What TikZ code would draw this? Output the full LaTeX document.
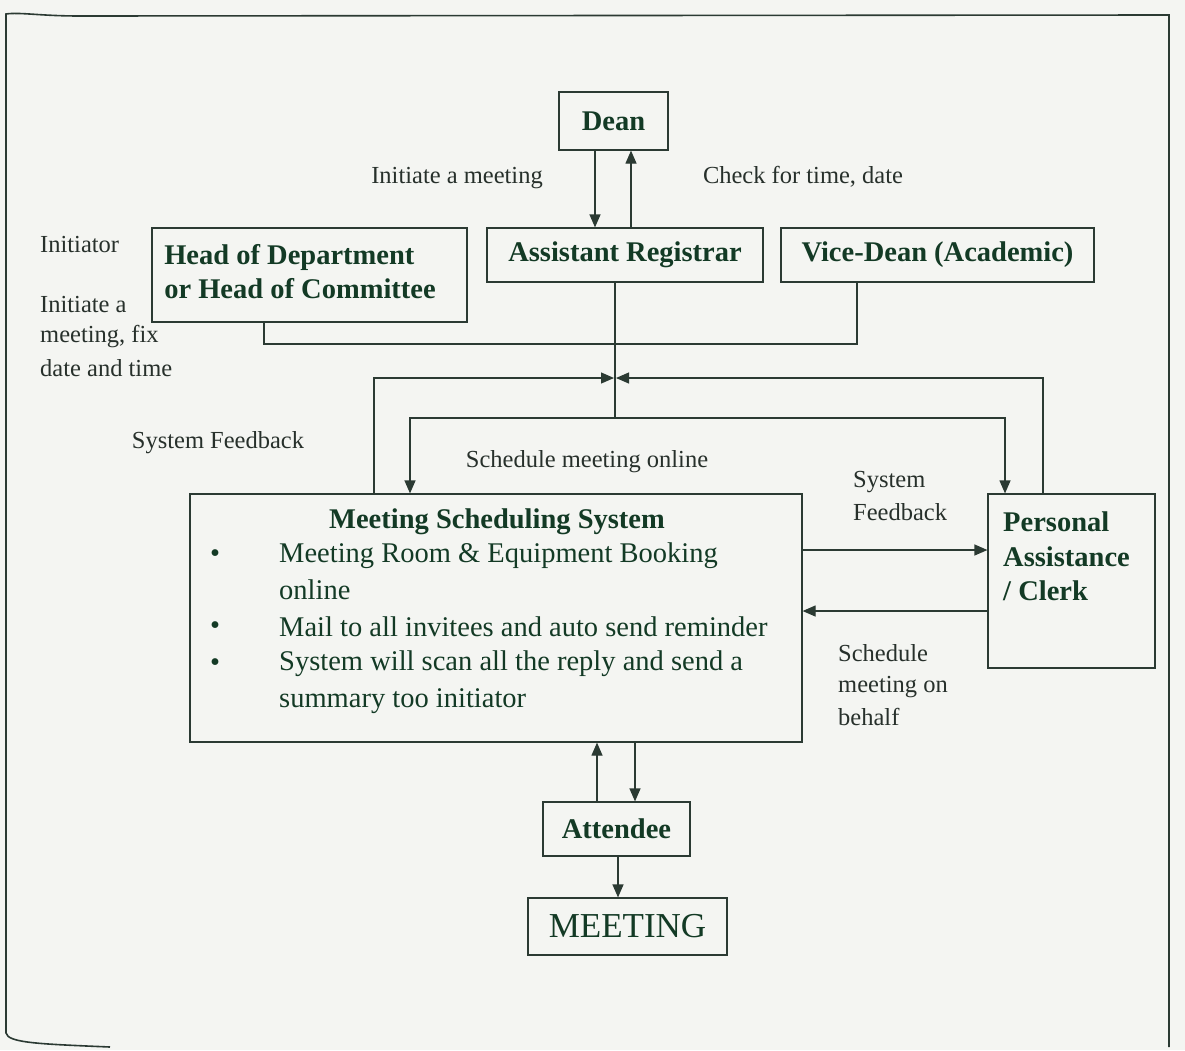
\documentclass[tikz,border=0pt]{standalone}
\usepackage{fontspec}
\setmainfont{Liberation Serif}
\usetikzlibrary{arrows.meta}
\definecolor{linecol}{HTML}{2B3A33}
\definecolor{textcol}{HTML}{27302B}
\definecolor{boldcol}{HTML}{133A25}
\definecolor{paper}{HTML}{F4F5F2}
\begin{document}
\begin{tikzpicture}[x=1pt,y=-1pt,
  box/.style={draw=linecol,line width=1.2pt,inner sep=0pt},
  boxtext/.style={text=boldcol,font=\fontsize{28.5}{34}\selectfont\bfseries,inner sep=0pt},
  lbl/.style={text=textcol,font=\fontsize{24.5}{30}\selectfont,inner sep=0pt},
  itemtext/.style={text=boldcol,font=\fontsize{28.5}{34}\selectfont,inner sep=0pt,anchor=west},
  bullet/.style={text=boldcol,font=\fontsize{28.5}{34}\selectfont,inner sep=0pt},
  wire/.style={draw=linecol,line width=1.2pt},
  arr/.style={wire,-{Triangle[length=13pt,width=11pt]}}]
% page and outer frame
\fill[paper] (0,0) rectangle (1185,1050);
\useasboundingbox (0,0) rectangle (1185,1050);
\draw[linecol,line width=1.6pt] (110,1047) .. controls (40,1044) and (8,1043) .. (6,1033)
  -- (6,14) .. controls (20,12) and (40,16) .. (80,16) -- (1169,15) -- (1169,1047);

% boxes
\node[box,minimum width=109pt,minimum height=58pt] (dean) at (613.5,121) {};
\node[boxtext] at (dean.center) {Dean};
\node[box,minimum width=315pt,minimum height=94pt] (hod) at (309.5,275) {};
\node[boxtext,align=left] at (300,272) {Head of Department\\or Head of Committee};
\node[box,minimum width=276pt,minimum height=54pt] (ar) at (625,255) {};
\node[boxtext] at (ar.center) {Assistant Registrar};
\node[box,minimum width=313pt,minimum height=54pt] (vd) at (937.5,255) {};
\node[boxtext] at (vd.center) {Vice-Dean (Academic)};
\node[box,minimum width=612pt,minimum height=248pt] (mss) at (496,618) {};
\node[box,minimum width=167pt,minimum height=174pt] (pa) at (1071.5,581) {};
\node[box,minimum width=147pt,minimum height=54pt] (att) at (616.5,829) {};
\node[boxtext] at (att.center) {Attendee};
\node[box,minimum width=199pt,minimum height=57pt] (mtg) at (627.5,926.5) {};
\node[text=boldcol,font=\fontsize{35}{40}\selectfont,inner sep=0pt] at (mtg.center) {MEETING};

% contents of the scheduling system
\node[boxtext] (msstitle) at (497,522) {Meeting Scheduling System};
\node[bullet] (b1) at (215,556) {•};
\node[bullet] (b2) at (215,628) {•};
\node[bullet] (b3) at (215,665) {•};
\node[itemtext] (i1) at (279,556) {Meeting Room \& Equipment Booking};
\node[itemtext] (i1b) at (279,590) {online};
\node[itemtext] (i2) at (279,627) {Mail to all invitees and auto send reminder};
\node[itemtext] (i3) at (279,664) {System will scan all the reply and send a};
\node[itemtext] (i3b) at (279,701) {summary too initiator};

% contents of the clerk box
\node[boxtext,anchor=west] (pa1) at (1003,522) {Personal};
\node[boxtext,anchor=west] (pa2) at (1003,557) {Assistance};
\node[boxtext,anchor=west] (pa3) at (1003,591) {/ Clerk};

% free labels
\node[lbl] (l1) at (457,178) {Initiate a meeting};
\node[lbl] (l2) at (803,177) {Check for time, date};
\node[lbl,anchor=west] (l3) at (40,245) {Initiator};
\node[lbl,anchor=west] (l4) at (40,305) {Initiate a};
\node[lbl,anchor=west] (l5) at (40,337) {meeting, fix};
\node[lbl,anchor=west] (l6) at (40,368) {date and time};
\node[lbl] (l7) at (218,443) {System Feedback};
\node[lbl] (l8) at (587,462) {Schedule meeting online};
\node[lbl,anchor=west] (l9) at (853,482) {System};
\node[lbl,anchor=west] (l10) at (853,512) {Feedback};
\node[lbl,anchor=west] (l11) at (838,653) {Schedule};
\node[lbl,anchor=west] (l12) at (838,687) {meeting on};
\node[lbl,anchor=west] (l13) at (838,717) {behalf};

% junction points
\coordinate (jleft) at (264,344);
\coordinate (jright) at (857,344);
\coordinate (jtop) at (615,344);
\coordinate (jmid) at (615,378);
\coordinate (jlow) at (615,418);

% Dean <-> Assistant Registrar
\draw[arr] (dean.south -| 595,0) -- (ar.north -| 595,0);
\draw[arr] (ar.north -| 631,0) -- (dean.south -| 631,0);

% initiators join into one line
\draw[wire] (hod.south -| jleft) -- (jleft) -- (jright) -- (vd.south -| jright);
\draw[wire] (ar.south -| jtop) -- (jlow);

% feedback loops meeting at the junction
\draw[arr] (mss.north -| 374,0) |- ([xshift=-1pt]jmid);
\draw[arr] (pa.north -| 1043,0) |- ([xshift=1pt]jmid);

% schedule meeting online
\draw[arr] (jlow) -| (mss.north -| 410,0);
\draw[arr] (jlow) -| (pa.north -| 1005,0);

% system <-> clerk
\draw[arr] (mss.east |- 0,550) -- (pa.west |- 0,550);
\draw[arr] (pa.west |- 0,611) -- (mss.east |- 0,611);

% system <-> attendee -> meeting
\draw[arr] (att.north -| 597,0) -- (mss.south -| 597,0);
\draw[arr] (mss.south -| 635,0) -- (att.north -| 635,0);
\draw[arr] (att.south -| 618,0) -- (mtg.north -| 618,0);
\end{tikzpicture}
\end{document}
